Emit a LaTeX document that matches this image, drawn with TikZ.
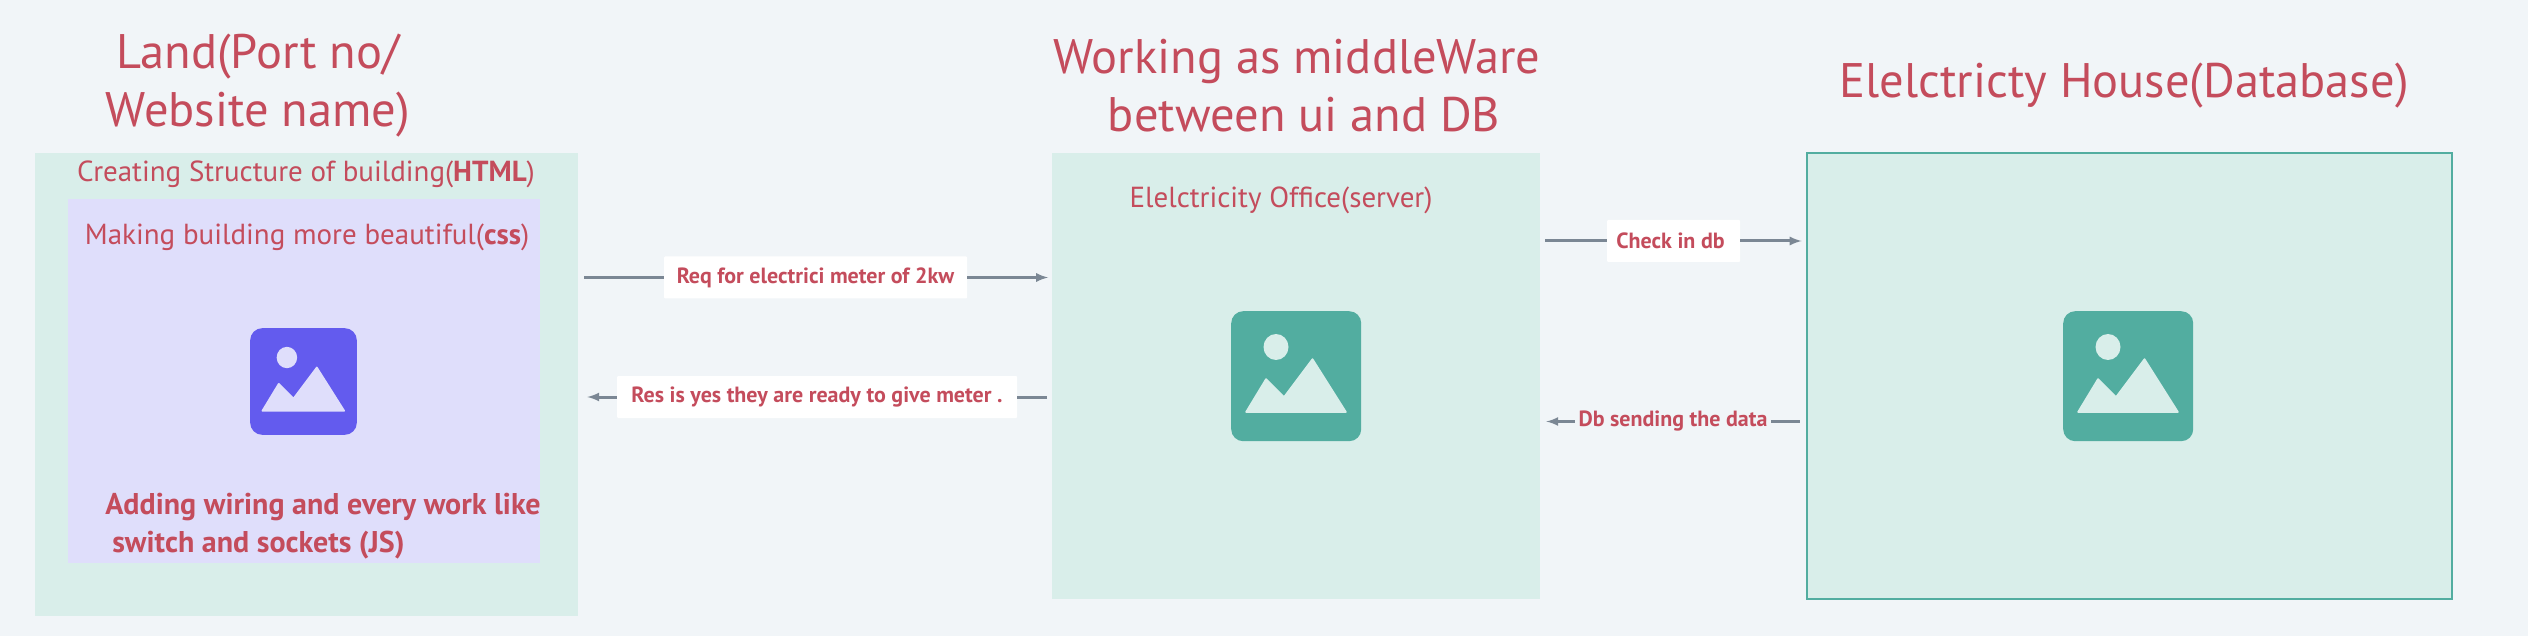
\documentclass[tikz,border=0pt]{standalone}
\usepackage{xcolor}
\usepackage{fontspec}
\setmainfont{PT Sans}
\usepackage{tikz}
\usetikzlibrary{arrows}
\usetikzlibrary{positioning}
\definecolor{pagecol}{HTML}{F1F5F8}
\definecolor{tealbox}{HTML}{D9EEEA}
\definecolor{tealicon}{HTML}{52ADA0}
\definecolor{lilacbox}{HTML}{DFDEFB}
\definecolor{lilacicon}{HTML}{635BEE}
\definecolor{redtext}{HTML}{C44C5C}
\definecolor{linecol}{HTML}{7B8794}
\tikzset{
  bigtext/.style={text=redtext,font=\fontsize{48.5}{58}\selectfont,align=center,inner sep=0pt},
  midtext/.style={text=redtext,font=\fontsize{29}{38}\selectfont,inner sep=0pt,anchor=base},
  box/.style={fill=tealbox,inner sep=0pt,anchor=north west},
  tag/.style={fill=white,text=redtext,font=\bfseries\fontsize{22}{26}\selectfont,inner sep=0pt,rounded corners=1pt},
  conn/.style={draw=linecol,line width=3pt,-latex}
}
% picture icon: x, y, scale, icon colour, mountain colour
\newcommand{\imgicon}[6]{
\begin{scope}[shift={(#2,#3)},x=#4pt,y=-#4pt]
\node (#1) [fill=#5,rounded corners=12pt,inner sep=0pt,minimum width=#4*130pt,minimum height=#4*130pt,anchor=north west] at (0,0) {};
\fill[#6] (45,36) ellipse [x radius=12.5,y radius=13];
\filldraw[#6,line width=1.5pt,line join=round] (15,101) -- (35,68) -- (53,86) -- (81.5,48) -- (115,101) -- cycle;
\end{scope}
}
\begin{document}
\begin{tikzpicture}[x=1pt,y=-1pt]
\fill[pagecol] (0,0) rectangle (2528,636);
\useasboundingbox (0,0) rectangle (2528,636);
% boxes
\node (land) [box,minimum width=543pt,minimum height=463pt] at (35,153) {};
\node (css) [fill=lilacbox,inner sep=0pt,anchor=north west,minimum width=472pt,minimum height=364pt] at (68,199) {};
\node (office) [box,minimum width=488pt,minimum height=446pt] at (1052,153) {};
\node (house) [box,draw=tealicon,line width=2pt,minimum width=645pt,minimum height=445pt] at (1805.5,152.5) {};
\imgicon{iconcss}{250}{328}{0.82}{lilacicon}{lilacbox}
\imgicon{iconoffice}{1231}{311}{1}{tealicon}{tealbox}
\imgicon{iconhouse}{2063}{311}{1}{tealicon}{tealbox}
% titles
\node (landtitle) [bigtext] at (258,86) {Land(Port no/\\Website name)};
\node (officetitle) [bigtext] at (1297,86) {Working as middleWare\\\hspace*{14pt}between ui and DB};
\node (housetitle) [bigtext] at (2124,86) {Elelctricty House(Database)};
% texts in the boxes
\node (htmltext) [midtext] at (306,182) {Creating Structure of building(\textbf{HTML})};
\node (csstext) [midtext] at (307,245) {Making building more beautiful(\textbf{css})};
\node (jstext) [midtext,anchor=center,align=left,font=\bfseries\fontsize{30}{38}\selectfont] at (323,526) {Adding wiring and every work like\\\hspace*{7pt}switch and sockets (JS)};
\node (officetext) [midtext] at (1281,208) {Elelctricity Office(server)};
% labels
\node (req) [tag,minimum width=303pt,minimum height=42pt] at (815.5,277.5) {Req for electrici meter of 2kw};
\node (res) [tag,minimum width=400pt,minimum height=42pt] at (817,397) {Res is yes they are ready to give meter .};
\node (check) [tag,minimum width=133pt,minimum height=42pt] at (1673.5,241) {\hspace*{-6pt}Check in db};
\node (dbsend) [tag,fill=pagecol,minimum width=196pt,minimum height=30pt] at (1673,421.5) {Db sending the data};
% arrows
\draw[conn,-] (req.west -| land.east) [shorten <=6pt] -- (req.west);
\draw[conn] (req.east) [shorten >=4pt] -- (req.east -| office.west);
\draw[conn,-] (res.east -| office.west) [shorten <=5pt] -- (res.east);
\draw[conn] (res.west) [shorten >=9pt] -- (res.west -| land.east);
\draw[conn,-] (check.west -| office.east) [shorten <=5pt] -- (check.west);
\draw[conn] (check.east) [shorten >=4pt] -- (check.east -| house.west);
\draw[conn,-] (dbsend.east -| house.west) [shorten <=6pt] -- (dbsend.east);
\draw[conn] (dbsend.west) [shorten >=6pt] -- (dbsend.west -| office.east);
\end{tikzpicture}
\end{document}
